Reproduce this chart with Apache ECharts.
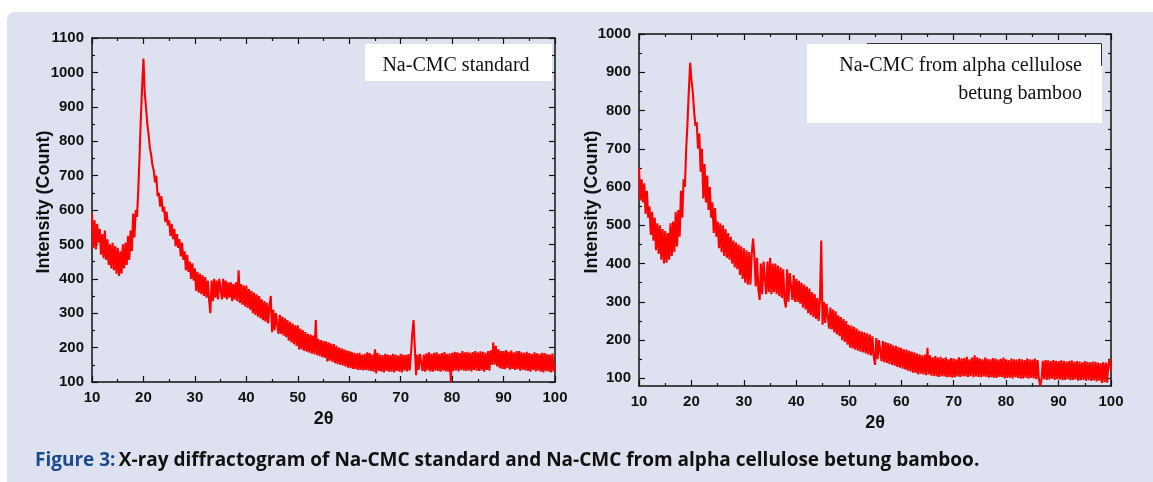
<!DOCTYPE html>
<html><head><meta charset="utf-8">
<script src="https://cdn.jsdelivr.net/npm/echarts@6/dist/echarts.min.js"></script>
<style>
html,body{margin:0;padding:0;background:#fff;overflow:hidden;}
#panel{position:absolute;left:7px;top:12px;width:1146px;height:470px;background:#dee2f0;border-top-left-radius:8px;}
#chart{position:absolute;left:0;top:0;width:1153px;height:482px;}
</style></head><body>
<div id="panel"></div>
<div id="chart"></div>
<script>
// 2θ sampling of both scans
const xStart = 10, xStep = 0.25;
const xTickValues = [10,20,30,40,50,60,70,80,90,100];
const leftYTicks = [100,200,300,400,500,600,700,800,900,1000,1100];
const rightYTicks = [100,200,300,400,500,600,700,800,900,1000];
const rightYMinor = [150,250,350,450,550,650,750,850,950];

// Na-CMC standard (values every 0.25° from 10° to 100°)
const stdValues = [
590,490,570,485, 560,505,545,470, 530,460,540,455, 515,440,500,430,
505,425,495,415, 490,408,480,415, 500,430,505,440, 525,455,540,480,
590,520,600,580, 660,760,870,960, 1040,940,900,850, 820,780,760,730,
715,680,700,640, 650,610,640,595, 610,565,595,555, 570,525,560,515,
545,495,530,490, 515,465,505,455, 480,425,470,420, 450,400,445,395,
430,365,420,360, 415,355,410,350, 405,345,395,340, 300,395,335,400,
345,395,340,400, 405,340,400,345, 395,340,390,345, 390,335,385,340,
390,335,425,330, 385,325,380,320, 380,315,370,310, 365,300,360,295,
355,290,350,285, 340,280,335,275, 330,270,320,350, 245,310,250,300,
300,240,295,240, 290,235,285,230, 280,220,275,215, 270,210,265,205,
265,195,255,195, 250,190,245,188, 240,185,238,182, 235,180,280,178,
225,175,222,172, 220,170,218,160, 215,162,212,158, 210,155,205,152,
200,150,198,148, 195,145,192,142, 190,140,188,138, 185,137,183,135,
185,136,180,134, 182,135,186,133, 184,132,180,130, 195,125,185,132,
180,130,178,128, 182,132,180,130, 178,130,182,128, 180,132,177,130,
182,128,180,133, 178,131,181,134, 180,240,280,200, 120,180,135,182,
185,132,180,130, 183,134,186,131, 182,130,185,133, 186,132,181,130,
184,133,187,131, 182,130,183,100, 185,132,188,134, 186,131,184,135,
190,133,186,132, 188,134,185,131, 187,135,190,133, 186,132,189,134,
188,130,185,135, 190,133,192,150, 215,150,205,145, 195,140,190,138,
190,137,193,140, 188,136,191,138, 186,135,189,137, 190,133,186,136,
185,134,188,132, 184,130,182,135, 186,131,183,133, 182,130,185,128,
184,132,181,130, 180,128,183,131, 150
];

// Na-CMC from alpha cellulose betung bamboo (values every 0.25° from 10° to 100°)
const bambooValues = [
650,565,620,560, 610,530,590,520, 550,475,535,460, 520,435,505,425,
500,410,490,400, 485,402,480,410, 505,420,510,430, 535,445,540,470,
590,520,620,600, 700,770,850,925, 880,850,800,760, 770,700,740,640,
700,570,660,560, 630,540,600,520, 560,480,545,470, 510,440,505,430,
500,420,490,415, 480,410,470,400, 460,390,455,385, 450,370,445,360,
440,350,435,345, 430,345,425,465, 420,340,415,335, 305,400,320,405,
410,320,405,325, 415,320,400,325, 400,320,395,315, 390,310,385,305,
285,385,300,375, 375,305,370,300, 360,300,355,295, 350,285,345,280,
340,270,335,265, 325,260,320,255, 310,250,305,460, 240,300,245,295,
290,230,285,228, 280,220,275,215, 265,210,260,200, 255,195,250,188,
240,180,238,178, 235,175,230,172, 225,170,222,168, 220,165,218,162,
215,160,210,158, 135,205,150,200, 200,145,198,142, 195,140,192,138,
190,135,186,133, 185,130,182,128, 180,125,176,123, 175,120,172,118,
170,115,168,114, 165,110,163,112, 160,110,162,108, 180,110,160,107,
155,106,158,105, 154,104,156,106, 152,105,155,103, 150,104,153,102,
152,103,150,105, 155,104,152,106, 153,105,156,104, 150,106,154,103,
160,105,155,104, 152,103,150,105, 154,104,151,102, 150,103,153,101,
152,102,149,104, 151,103,154,100, 150,101,148,102, 152,100,150,103,
149,101,151,99, 150,100,148,102, 152,99,150,101, 149,100,152,98,
148,99,80,97, 146,98,148,96, 147,97,145,99, 148,96,146,98,
145,97,147,95, 146,96,144,98, 145,95,147,96, 143,97,145,94,
144,95,142,96, 145,94,143,95, 142,93,144,95, 143,92,141,94,
140,88,142,90, 141,89,138,150, 120
];

const toPairs = arr => arr.map((v, i) => [xStart + i * xStep, v]);

const INK = '#111';
const LABEL_FONT = {fontFamily: 'Liberation Sans, Arial, sans-serif', fontWeight: 'bold', fontSize: 15, color: INK};
const NAME_FONT = {fontFamily: 'Liberation Sans, Arial, sans-serif', fontWeight: 'bold', fontSize: 18, color: INK};
const plain = v => String(v);

function xAxisCfg(grid, position) {
  const bottom = position === 'bottom';
  return {
    type: 'value', gridIndex: grid, position: position,
    min: 10, max: 100, interval: 10,
    name: bottom ? '2θ' : '', nameLocation: 'middle', nameGap: 23, nameTextStyle: NAME_FONT,
    axisLine: {show: true, onZero: false, lineStyle: {color: INK, width: 1.5}},
    axisTick: {show: true, inside: true, length: 6, lineStyle: {color: INK, width: 1.2}},
    minorTick: {show: true, splitNumber: 2, length: 3, lineStyle: {color: INK, width: 1.2}},
    axisLabel: Object.assign({show: bottom, margin: 8, formatter: plain}, LABEL_FONT),
    splitLine: {show: false}, minorSplitLine: {show: false}
  };
}
function leftYCfg(position) {
  const left = position === 'left';
  return {
    type: 'value', gridIndex: 0, position: position,
    min: 100, max: 1100, interval: 100,
    name: left ? 'Intensity (Count)' : '', nameLocation: 'middle', nameGap: 39, nameMoveOverlap: false,
    nameTextStyle: Object.assign({padding: [0, 0, 0, 16]}, NAME_FONT),
    axisLine: {show: true, onZero: false, lineStyle: {color: INK, width: 1.5}},
    axisTick: {show: true, inside: true, length: 6, lineStyle: {color: INK, width: 1.2}},
    minorTick: {show: true, splitNumber: 2, length: 3, lineStyle: {color: INK, width: 1.2}},
    axisLabel: Object.assign({show: left, margin: 8, formatter: plain}, LABEL_FONT),
    splitLine: {show: false}
  };
}
function rightYCfg(position, minor) {
  const left = position === 'left';
  const vals = minor ? rightYMinor : rightYTicks;
  return {
    type: 'value', gridIndex: 1, position: position,
    min: 80, max: 1000,
    name: (left && !minor) ? 'Intensity (Count)' : '', nameLocation: 'middle', nameGap: 38, nameMoveOverlap: false,
    nameTextStyle: Object.assign({padding: [0, 0, 0, 16]}, NAME_FONT),
    axisLine: {show: !minor, onZero: false, lineStyle: {color: INK, width: 1.5}},
    axisTick: {show: true, inside: true, length: minor ? 3 : 6, customValues: vals, lineStyle: {color: INK, width: 1.2}},
    axisLabel: Object.assign({show: left && !minor, margin: 8, customValues: rightYTicks, formatter: plain}, LABEL_FONT),
    splitLine: {show: false}
  };
}

const chart = echarts.init(document.getElementById('chart'), null, {renderer: 'canvas'});
chart.setOption({
  animation: false,
  backgroundColor: 'transparent',
  grid: [
    {left: 92, top: 38, width: 463, height: 344},
    {left: 639, top: 34, width: 472, height: 352}
  ],
  xAxis: [xAxisCfg(0, 'bottom'), xAxisCfg(0, 'top'), xAxisCfg(1, 'bottom'), xAxisCfg(1, 'top')],
  yAxis: [leftYCfg('left'), leftYCfg('right'),
          rightYCfg('left', false), rightYCfg('left', true),
          rightYCfg('right', false), rightYCfg('right', true)],
  series: [
    {type: 'line', xAxisIndex: 0, yAxisIndex: 0, data: toPairs(stdValues), showSymbol: false,
     symbol: 'none', lineStyle: {color: '#ff0000', width: 2.1}, silent: true, z: 2},
    {type: 'line', xAxisIndex: 2, yAxisIndex: 2, data: toPairs(bambooValues), showSymbol: false,
     symbol: 'none', lineStyle: {color: '#ff0000', width: 2.1}, silent: true, z: 2}
  ],
  graphic: [
    {type: 'rect', shape: {x: 365, y: 44, width: 187, height: 37}, style: {fill: '#fff'}, z: 10},
    {type: 'text', x: 456, y: 66, z: 11, style: {text: 'Na-CMC standard', fill: '#111',
      font: '20px "Liberation Serif", "Times New Roman", serif', align: 'center', verticalAlign: 'middle'}},
    {type: 'rect', shape: {x: 807, y: 44, width: 295, height: 79}, style: {fill: '#fff'}, z: 10},
    {type: 'polyline', shape: {points: [[867, 43.5], [1101.5, 43.5], [1101.5, 66]]},
      style: {stroke: '#333', lineWidth: 1, fill: null}, z: 12},
    {type: 'text', x: 1082, y: 66, z: 11, style: {text: 'Na-CMC from alpha cellulose', fill: '#111',
      font: '20px "Liberation Serif", "Times New Roman", serif', align: 'right', verticalAlign: 'middle'}},
    {type: 'text', x: 1082, y: 94, z: 11, style: {text: 'betung bamboo', fill: '#111',
      font: '20px "Liberation Serif", "Times New Roman", serif', align: 'right', verticalAlign: 'middle'}},
    {type: 'text', x: 35, y: 461, z: 11, style: {
      text: '{a|Figure 3:} {b|X-ray diffractogram of Na-CMC standard and Na-CMC from alpha cellulose betung bamboo.}',
      verticalAlign: 'middle',
      rich: {
        a: {fontFamily: '"Open Sans", sans-serif', fontWeight: 'bold', fontSize: 19, fill: '#1c4b8c'},
        b: {fontFamily: '"Open Sans", sans-serif', fontWeight: 'bold', fontSize: 19, fill: '#111'}
      }}}
  ]
});
</script>
</body></html>
